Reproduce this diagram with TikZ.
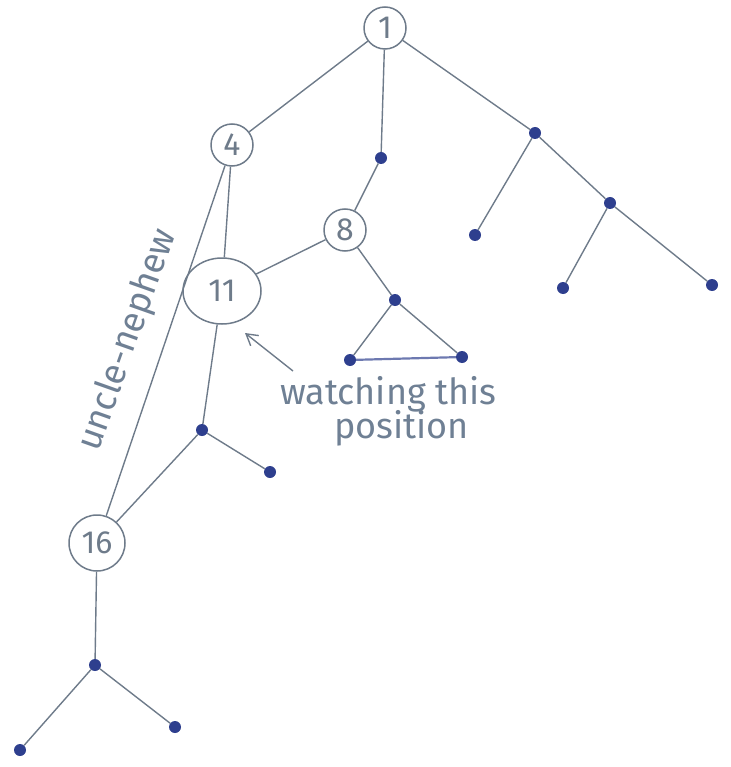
\documentclass[tikz,border=0pt]{standalone}
\usepackage{fontspec}
\setmainfont{Fira Sans}
\usepackage{xcolor}
\usepackage{tikz}
\usetikzlibrary{arrows.meta,shapes.geometric}
\definecolor{PenGray}{HTML}{6E7B8A}
\definecolor{PenBlue}{HTML}{2E3F8E}
\definecolor{InkText}{HTML}{6F8094}

\begin{document}
\begin{tikzpicture}[x=1pt,y=-1pt,
  vert/.style={draw=PenGray, line width=1.5pt, circle, inner sep=0pt,
    minimum size=42pt, text=PenGray, font=\fontsize{32}{32}\selectfont},
  leaf/.style={circle, fill=PenBlue, inner sep=0pt, minimum size=12pt},
  edge/.style={draw=PenGray, line width=1.4pt},
  note/.style={text=InkText, inner sep=0pt, font=\fontsize{36}{36}\selectfont}]
\useasboundingbox (0,0) rectangle (730,767);

% numbered vertices
\node[vert] (n1) at (385,28) {1};
\node[vert] (n4) at (232,145) {4};
\node[vert] (n8) at (345,230) {8};
\node[vert, ellipse, minimum width=78pt, minimum height=66pt] (n11) at (222,291) {11};
\node[vert, minimum size=56pt] (n16) at (97,543) {16};

% unnamed vertices
\node[leaf] (d1) at (381,158) {};
\node[leaf] (d2) at (535,133) {};
\node[leaf] (d3) at (475,235) {};
\node[leaf] (d4) at (610,203) {};
\node[leaf] (d5) at (563,288) {};
\node[leaf] (d6) at (712,285) {};
\node[leaf] (d7) at (395,300) {};
\node[leaf] (d8) at (350,360) {};
\node[leaf] (d9) at (462,357) {};
\node[leaf] (d10) at (202,430) {};
\node[leaf] (d11) at (270,472) {};
\node[leaf] (d12) at (95,665) {};
\node[leaf] (d13) at (20,750) {};
\node[leaf] (d14) at (175,727) {};

% tree edges
\draw[edge] (n1) -- (n4);
\draw[edge] (n1) -- (d1);
\draw[edge] (n1) -- (d2);
\draw[edge] (d2) -- (d3);
\draw[edge] (d2) -- (d4);
\draw[edge] (d4) -- (d5);
\draw[edge] (d4) -- (d6);
\draw[edge] (d1) -- (n8);
\draw[edge] (n8) -- (n11);
\draw[edge] (n8) -- (d7);
\draw[edge] (d7) -- (d8);
\draw[edge] (d7) -- (d9);
\draw[edge, line width=2.2pt, PenBlue!70] (d8) -- (d9);
\draw[edge] (n4) -- (n11);
\draw[edge] (n11) -- (d10);
\draw[edge] (d10) -- (n16);
\draw[edge] (d10) -- (d11);
\draw[edge] (n16) -- (d12);
\draw[edge] (d12) -- (d13);
\draw[edge] (d12) -- (d14);

% uncle-nephew link
\draw[edge] (n4) -- (n16);
\node[note, rotate=70.5] (uncle) at (128,340) {uncle-nephew};

% watching note
\node[note, anchor=north west] (watch) at (280,376) {watching this};
\node[note, anchor=north west] (pos) at (334,410) {position};
\coordinate (tail) at (293,371);
\coordinate (tip) at (245,333);
\draw[edge, -{Straight Barb[length=11pt,width=13pt]}] (tail) -- (tip);
\end{tikzpicture}
\end{document}
